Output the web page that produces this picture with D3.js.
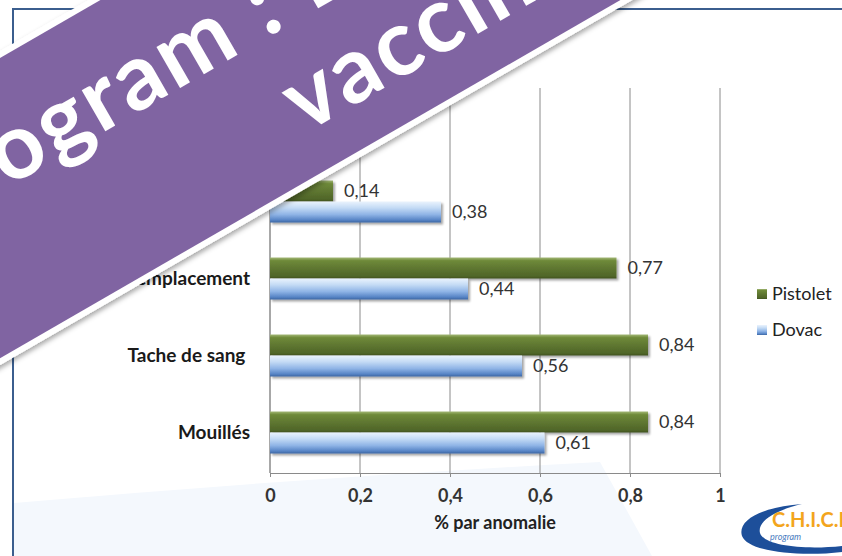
<!DOCTYPE html>
<html>
<head>
<meta charset="utf-8">
<script src="https://cdn.jsdelivr.net/npm/d3@7"></script>
<style>
  body { margin: 0; background: #fff; }
  svg { display: block; }
</style>
</head>
<body>
<div id="grafica"></div>
<script>
// Données (les deux lignes du haut sont en partie cachées par le bandeau)
const categories = ["Autres", "Non vaccinés", "Mauvais emplacement", "Tache de sang\u00a0", "Mouillés"]
const series = ["Pistolet", "Dovac"]
const pistolet = [0.03, 0.14, 0.77, 0.84, 0.84]
const dovac = [0.05, 0.38, 0.44, 0.56, 0.61]
const xTicks = [0, 0.2, 0.4, 0.6, 0.8, 1]
const axisTitle = "% par anomalie"
const bannerLines = ["Chick Program : Dovac", "vaccination"]

const width = 842
const height = 556
const fmt = d3.format("~g")
const fmtFr = v => fmt(v).replace(".", ",")

const svg = d3.select("#grafica").append("svg")
  .attr("width", width)
  .attr("height", height)
  .style("font-family", "Lato, 'Open Sans', sans-serif")

const defs = svg.append("defs")

// dégradés type Excel 2007
function gradient(id, stops) {
  const g = defs.append("linearGradient").attr("id", id)
    .attr("x1", 0).attr("y1", 0).attr("x2", 0).attr("y2", 1)
  stops.forEach(s => g.append("stop").attr("offset", s[0]).attr("stop-color", s[1]))
}
gradient("gPistolet", [[0, "#a3b877"], [0.15, "#6f8a3a"], [0.5, "#5f7731"], [0.9, "#4f6528"], [1, "#3e5020"]])
gradient("gDovac", [[0, "#eaf3fd"], [0.3, "#c4dbf5"], [0.62, "#8fb4e6"], [0.88, "#5785c6"], [1, "#3c66a2"]])

const sh = defs.append("filter").attr("id", "ombre").attr("x", "-10%").attr("y", "-30%").attr("width", "130%").attr("height", "180%")
sh.append("feDropShadow").attr("dx", 2).attr("dy", 2).attr("stdDeviation", 1.2)
  .attr("flood-color", "#000").attr("flood-opacity", 0.35)

const shB = defs.append("filter").attr("id", "ombreB").attr("x", "-10%").attr("y", "-20%").attr("width", "120%").attr("height", "140%")
shB.append("feDropShadow").attr("dx", 2).attr("dy", 3).attr("stdDeviation", 2.5)
  .attr("flood-color", "#000").attr("flood-opacity", 0.35)

const colors = { Pistolet: "url(#gPistolet)", Dovac: "url(#gDovac)" }
const values = { Pistolet: pistolet, Dovac: dovac }

// fond de la diapo
svg.append("path")
  .attr("d", "M14,503 Q300,478 600,462 L652,556 L14,556 Z")
  .attr("fill", "#f4f8fd")

// cadre
svg.append("path")
  .attr("d", "M13,556 L13,9 L842,9")
  .attr("fill", "none")
  .attr("stroke", "#3b5e8e")
  .attr("stroke-width", 2)

// échelles
const plotTop = 88
const plotBottom = 473
const x = d3.scaleLinear().domain([0, 1]).range([270, 720])
const y = d3.scaleBand().domain(categories).range([86, 471])
  .paddingInner(0.4545).paddingOuter(0.2273)
const y1 = d3.scaleBand().domain(series).range([0, y.bandwidth()])

// quadrillage vertical
svg.append("g").selectAll("line")
  .data(xTicks)
  .enter().append("line")
  .attr("x1", d => x(d)).attr("x2", d => x(d))
  .attr("y1", plotTop).attr("y2", plotBottom)
  .attr("stroke", "#8a8a8a")
  .attr("stroke-width", 1)

// axe X
const xAxis = d3.axisBottom(x).tickValues(xTicks).tickFormat(fmtFr)
  .tickSizeInner(4).tickSizeOuter(0).tickPadding(12)
const gx = svg.append("g")
  .attr("transform", "translate(0," + plotBottom + ")")
  .call(xAxis)
gx.select(".domain").attr("stroke", "#8a8a8a")
gx.selectAll(".tick line").attr("stroke", "#8a8a8a")
gx.selectAll(".tick text")
  .attr("fill", "#333")
  .style("font-size", "18px")
  .style("font-weight", "bold")
  .style("font-family", "Lato, sans-serif")

svg.append("text")
  .attr("x", x(0.5))
  .attr("y", 529)
  .attr("text-anchor", "middle")
  .attr("fill", "#222")
  .style("font-size", "18px")
  .style("font-weight", "bold")
  .text(axisTitle)

// axe Y (catégories)
const yAxis = d3.axisLeft(y).tickSize(0).tickPadding(20)
const gy = svg.append("g")
  .attr("transform", "translate(270,0)")
  .call(yAxis)
gy.select(".domain").remove()
gy.selectAll(".tick text")
  .attr("fill", "#1a1a1a")
  .style("font-size", "19px")
  .style("font-weight", "bold")
  .style("font-family", "Lato, sans-serif")

svg.append("line")
  .attr("x1", x(0)).attr("x2", x(0))
  .attr("y1", plotTop).attr("y2", plotBottom)
  .attr("stroke", "#8a8a8a")

// barres
const rows = categories.map((c, i) => ({ cat: c, vals: series.map(s => ({ s: s, v: values[s][i] })) }))

const groups = svg.append("g").selectAll("g")
  .data(rows)
  .enter().append("g")
  .attr("transform", d => "translate(0," + y(d.cat) + ")")

groups.selectAll("rect")
  .data(d => d.vals)
  .enter().append("rect")
  .attr("x", x(0))
  .attr("y", d => y1(d.s))
  .attr("width", d => x(d.v) - x(0))
  .attr("height", y1.bandwidth())
  .attr("fill", d => colors[d.s])
  .attr("filter", "url(#ombre)")

groups.selectAll("text")
  .data(d => d.vals)
  .enter().append("text")
  .attr("x", d => x(d.v) + 11)
  .attr("y", d => y1(d.s) + y1.bandwidth() / 2)
  .attr("dy", "0.36em")
  .attr("fill", "#333")
  .style("font-size", "18px")
  .text(d => fmtFr(d.v))

// légende
const legend = svg.append("g").selectAll("g")
  .data(series)
  .enter().append("g")
  .attr("transform", (d, i) => "translate(757," + (289 + i * 36) + ")")

legend.append("rect")
  .attr("width", 10).attr("height", 10)
  .attr("fill", d => colors[d])
legend.append("text")
  .attr("x", 15)
  .attr("y", 5)
  .attr("dy", "0.36em")
  .attr("fill", "#222")
  .style("font-size", "18px")
  .text(d => d)

// logo CHICK program
const logo = svg.append("g")
logo.append("path")
  .attr("d", "M802,504 C762,507 737,520 742,536 C748,552 800,557 842,552 L842,546 C805,550 764,546 760,533 C757,521 776,510 802,504 Z")
  .attr("fill", "#1d4f9a")
logo.append("text")
  .attr("x", 772).attr("y", 527)
  .attr("fill", "#f3a51d")
  .style("font-size", "20px")
  .style("font-weight", "bold")
  .text("C.H.I.C.K")
logo.append("text")
  .attr("x", 770).attr("y", 540)
  .attr("fill", "#4a7cc0")
  .style("font-size", "9px")
  .style("font-style", "italic")
  .text("program")

// bandeau violet
const banner = svg.append("g").attr("transform", "translate(0,58) rotate(-30)")
banner.append("rect")
  .attr("x", -400).attr("y", -6)
  .attr("width", 1600).attr("height", 272)
  .attr("fill", "#fff")
  .attr("filter", "url(#ombreB)")
banner.append("rect")
  .attr("x", -400).attr("y", 0)
  .attr("width", 1600).attr("height", 260)
  .attr("fill", "#8064a2")

const t1 = banner.append("text")
  .attr("y", 116)
  .attr("fill", "#fff")
  .style("font-size", "92px")
  .style("font-weight", "bold")
  .style("letter-spacing", "3px")
const pre = t1.append("tspan").text(bannerLines[0].slice(0, 8))
t1.append("tspan").text(bannerLines[0].slice(8))
t1.attr("x", -58 - pre.node().getComputedTextLength())

banner.append("text")
  .attr("x", 226)
  .attr("y", 218)
  .attr("fill", "#fff")
  .style("font-size", "92px")
  .style("font-weight", "bold")
  .style("letter-spacing", "3px")
  .text(bannerLines[1])
</script>
</body>
</html>
